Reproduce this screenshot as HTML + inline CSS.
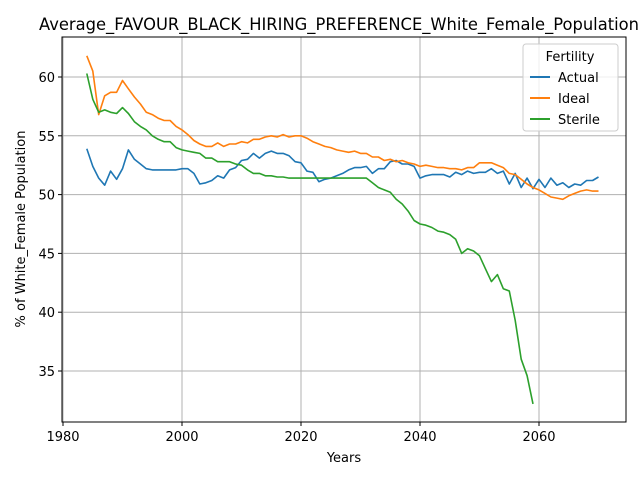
<!DOCTYPE html>
<html><head><meta charset="utf-8"><style>
body{margin:0;background:#fff;}
svg{display:block;font-family:"DejaVu Sans","Liberation Sans",sans-serif;}
</style></head><body>
<svg id="chart" width="640" height="480" viewBox="0 0 640 480">
<text x="339" y="30" text-anchor="middle" font-size="16.5" textLength="600" lengthAdjust="spacingAndGlyphs">Average_FAVOUR_BLACK_HIRING_PREFERENCE_White_Female_Population</text>
<g id="grid"></g><g id="ticks"></g><g id="series"></g>
<rect x="62" y="37" width="564" height="385" fill="none" stroke="#000" stroke-width="1"/>
<text x="344" y="462" text-anchor="middle" font-size="13">Years</text>
<text transform="translate(25,229) rotate(-90)" text-anchor="middle" font-size="13">% of White_Female Population</text>
<g>
<rect x="523" y="44" width="95" height="87" rx="3" fill="#fff" fill-opacity="0.8" stroke="#ccc"/>
<text x="570" y="61" text-anchor="middle" font-size="13">Fertility</text>
<g><line x1="530" x2="550" y1="77" y2="77" stroke="#1f77b4" stroke-width="2"/><text x="558" y="82" font-size="13">Actual</text></g>
<g><line x1="530" x2="550" y1="98" y2="98" stroke="#ff7f0e" stroke-width="2"/><text x="558" y="103" font-size="13">Ideal</text></g>
<g><line x1="530" x2="550" y1="119" y2="119" stroke="#2ca02c" stroke-width="2"/><text x="558" y="124" font-size="13">Sterile</text></g>
</g>
</svg>
<script>
const startYear = 1984;
const actual = [53.9,52.4,51.4,50.8,52.0,51.3,52.2,53.8,53.0,52.6,52.2,52.1,52.1,52.1,52.1,52.1,52.2,52.2,51.8,50.9,51.0,51.2,51.6,51.4,52.1,52.3,52.9,53.0,53.5,53.1,53.5,53.7,53.5,53.5,53.3,52.8,52.7,52.0,51.9,51.1,51.3,51.4,51.6,51.8,52.1,52.3,52.3,52.4,51.8,52.2,52.2,52.8,52.9,52.6,52.6,52.4,51.4,51.6,51.7,51.7,51.7,51.5,51.9,51.7,52.0,51.8,51.9,51.9,52.2,51.8,52.0,50.9,51.8,50.6,51.4,50.5,51.3,50.6,51.4,50.8,51.0,50.6,50.9,50.8,51.2,51.2,51.5];
const ideal = [61.8,60.5,56.8,58.4,58.7,58.7,59.7,59.0,58.3,57.7,57.0,56.8,56.5,56.3,56.3,55.8,55.5,55.1,54.6,54.3,54.1,54.1,54.4,54.1,54.3,54.3,54.5,54.4,54.7,54.7,54.9,55.0,54.9,55.1,54.9,55.0,55.0,54.8,54.5,54.3,54.1,54.0,53.8,53.7,53.6,53.7,53.5,53.5,53.2,53.2,52.9,53.0,52.8,52.9,52.7,52.6,52.4,52.5,52.4,52.3,52.3,52.2,52.2,52.1,52.3,52.3,52.7,52.7,52.7,52.5,52.3,51.8,51.7,51.3,50.9,50.6,50.4,50.1,49.8,49.7,49.6,49.9,50.1,50.3,50.4,50.3,50.3];
const sterile = [60.3,58.1,57.0,57.2,57.0,56.9,57.4,56.9,56.2,55.8,55.5,55.0,54.7,54.5,54.5,54.0,53.8,53.7,53.6,53.5,53.1,53.1,52.8,52.8,52.8,52.6,52.5,52.1,51.8,51.8,51.6,51.6,51.5,51.5,51.4,51.4,51.4,51.4,51.4,51.4,51.4,51.4,51.4,51.4,51.4,51.4,51.4,51.4,51.0,50.6,50.4,50.2,49.6,49.2,48.6,47.8,47.5,47.4,47.2,46.9,46.8,46.6,46.2,45.0,45.4,45.2,44.8,43.7,42.6,43.2,42.0,41.8,39.3,36.0,34.6,32.2];
const xTicks = [1980,2000,2020,2040,2060];
const yTicks = [35,40,45,50,55,60];

const NS = "http://www.w3.org/2000/svg";
function xs(v){return 63 + (v-1980)*5.95;}
function ys(v){return 77 + (60-v)*11.76;}
const grid = document.getElementById('grid'), ticks = document.getElementById('ticks'), ser = document.getElementById('series');
function mk(tag, attrs, parent){const e=document.createElementNS(NS,tag);for(const k in attrs)e.setAttribute(k,attrs[k]);parent.appendChild(e);return e;}
xTicks.forEach(t=>{
  const x = xs(t);
  const g = mk('line',{x1:x,x2:x,y1:37,y2:422,stroke:'#b0b0b0','stroke-width':1},grid);
  
  
  mk('line',{x1:x,x2:x,y1:422,y2:426,stroke:'#000'},ticks);
  const tx = mk('text',{x:x,y:441,'text-anchor':'middle','font-size':13},ticks);
  tx.textContent = t;
  
  
});
yTicks.forEach(t=>{
  const y = ys(t);
  const g = mk('line',{x1:62,x2:626,y1:y,y2:y,stroke:'#b0b0b0','stroke-width':1},grid);
  
  
  mk('line',{x1:58,x2:62,y1:y,y2:y,stroke:'#000'},ticks);
  const tx = mk('text',{x:55,y:y+5,'text-anchor':'end','font-size':13},ticks);
  tx.textContent = t;
  
  
});
function line(data, color, name){
  const pts = data.map((v,i)=>xs(startYear+i).toFixed(1)+','+ys(v).toFixed(1)).join(' ');
  const p = mk('polyline',{points:pts,fill:'none',stroke:color,'stroke-width':1.6,'stroke-linejoin':'round'},ser);
  
  
}
line(actual,'#1f77b4','actual-line');
line(ideal,'#ff7f0e','ideal-line');
line(sterile,'#2ca02c','sterile-line');
</script>
</body></html>
